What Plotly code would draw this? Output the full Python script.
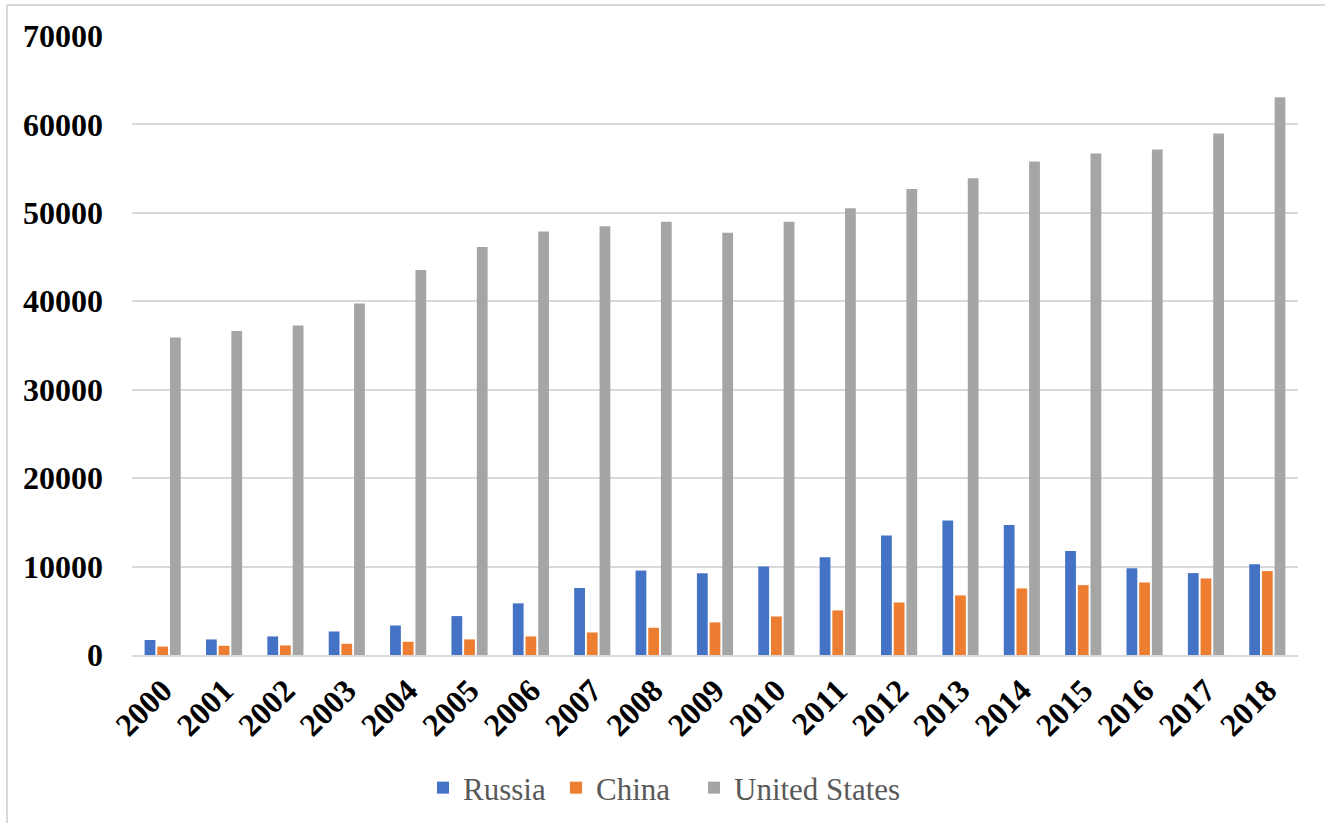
import plotly.graph_objects as go

years = [str(y) for y in range(2000, 2019)]
russia = [1700, 1760, 2100, 2660, 3340, 4400, 5840, 7580, 9550, 9240,
          10000, 11040, 13500, 15200, 14700, 11770, 9800, 9260, 10250]
china = [950, 1040, 1080, 1270, 1500, 1760, 2100, 2550, 3080, 3690,
         4360, 5040, 5940, 6740, 7530, 7900, 8200, 8660, 9490]
usa = [35900, 36650, 37250, 39740, 43550, 46150, 47890, 48490, 48990, 47740,
       48990, 50530, 52700, 53900, 55800, 56700, 57160, 58980, 63070]
series_names = ["Russia", "China", "United States"]
series_colors = ["#4472C4", "#ED7D31", "#A5A5A5"]
y_ticks = [0, 10000, 20000, 30000, 40000, 50000, 60000, 70000]

W, H = 1325, 823
L, R, T, B = 132, 27, 36, 168
PW, PH = W - L - R, H - T - B

def px_x(x):
    return (x - L) / PW

def px_y(y):
    return (H - B - y) / PH

legend_ids = ["legend", "legend2", "legend3"]
legend_text_x = [464, 597, 735]

fig = go.Figure()
for name, vals, col, lid in zip(series_names, [russia, china, usa], series_colors, legend_ids):
    fig.add_trace(go.Bar(x=years, y=vals, name=name, marker_color=col,
                         marker_line_width=0, legend=lid, showlegend=True))

legend_common = dict(orientation="h", xanchor="left", y=px_y(788), yanchor="middle",
                     font=dict(size=31, color="#595959"), bgcolor="rgba(0,0,0,0)")
legends = {}
for lid, tx in zip(legend_ids, legend_text_x):
    legends[lid] = dict(legend_common, x=px_x(tx - 41))

fig.update_layout(
    width=W, height=H, showlegend=True,
    margin=dict(l=L, r=R, t=T, b=B, autoexpand=False),
    paper_bgcolor="white", plot_bgcolor="white",
    barmode="group", bargap=0.38, bargroupgap=0.15,
    font=dict(family="Liberation Serif, Times New Roman, serif", color="black"),
    xaxis=dict(type="category", tickangle=-45, showgrid=False, automargin=False,
               tickfont=dict(size=32, family="Liberation Serif", color="black", weight="bold"),
               showline=True, linecolor="#d9d9d9", linewidth=2, ticks="",
               ticklabelstandoff=2),
    yaxis=dict(range=[0, 70000], tickvals=y_ticks, automargin=False,
               ticktext=[str(v) for v in y_ticks],
               showgrid=True, gridcolor="#d9d9d9", gridwidth=1.5,
               zeroline=False, showline=False, ticks="",
               tickfont=dict(size=32, family="Liberation Serif", color="black", weight="bold"),
               ticklabelstandoff=28),
    shapes=[
        dict(type="line", xref="paper", yref="paper",
             x0=px_x(7), x1=px_x(7), y0=px_y(5), y1=px_y(H),
             line=dict(color="#d9d9d9", width=2)),
        dict(type="line", xref="paper", yref="paper",
             x0=px_x(7), x1=px_x(W), y0=px_y(5), y1=px_y(5),
             line=dict(color="#d9d9d9", width=2)),
    ],
    **legends,
)
fig.write_html("out.html", config={"displayModeBar": False},
               post_script="document.body.style.margin='0px';document.body.style.overflow='hidden';")
